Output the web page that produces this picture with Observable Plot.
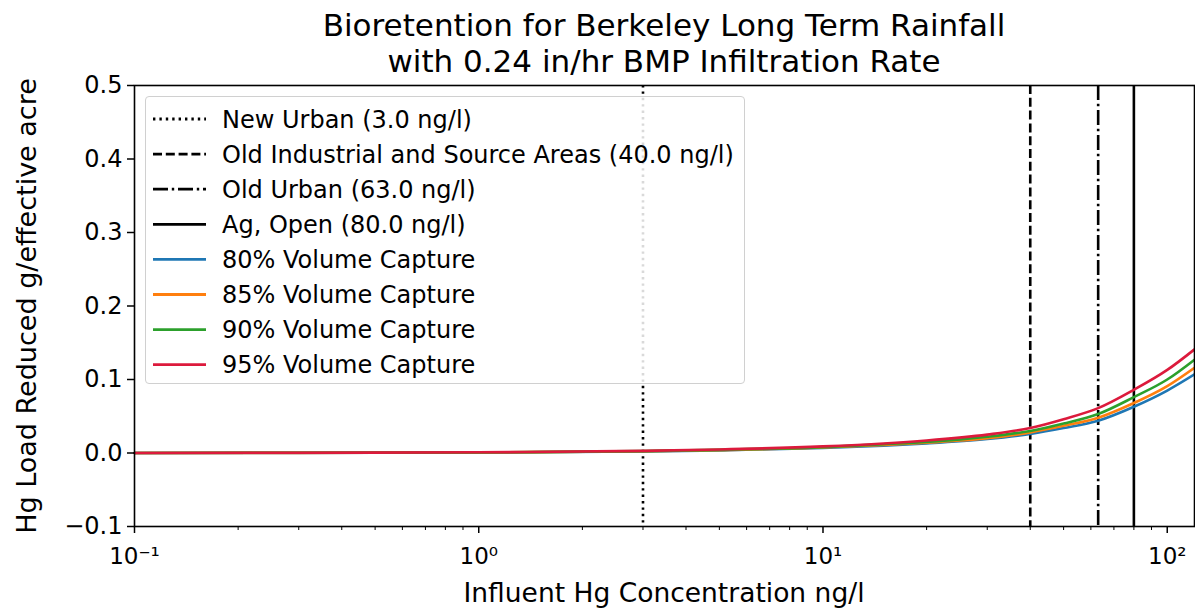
<!DOCTYPE html>
<html>
<head>
<meta charset="utf-8">
<script src="https://cdn.jsdelivr.net/npm/d3@7"></script>
<script src="https://cdn.jsdelivr.net/npm/@observablehq/plot@0.6"></script>
<style>
  html, body { margin: 0; padding: 0; background: #fff; }
  #wrap { position: relative; width: 1195px; height: 611px; font-family: "DejaVu Sans", sans-serif; color: #000; overflow: hidden; }
  #title { position: absolute; left: 0; width: 1328px; top: 7px; text-align: center; font-size: 31px; line-height: 36px; }
  #chart { position: absolute; left: 0; top: 80px; }
  #ylabel { position: absolute; left: 26px; top: 306px; transform: translate(-50%, -50%) rotate(-90deg); white-space: nowrap; font-size: 27px; }
  #xlabel { position: absolute; left: 664px; top: 592px; transform: translate(-50%, -50%); white-space: nowrap; font-size: 26.5px; }
  #legend { position: absolute; left: 145px; top: 96px; width: 600px; height: 288px; border: 1px solid #d0d0d0; border-radius: 4px; background: rgba(255,255,255,0.85); box-sizing: border-box; }
</style>
</head>
<body>
<div id="wrap">
  <div id="title">Bioretention for Berkeley Long Term Rainfall<br>with 0.24 in/hr BMP Infiltration Rate</div>
  <div id="chart"></div>
  <div id="ylabel">Hg Load Reduced g/effective acre</div>
  <div id="xlabel">Influent Hg Concentration ng/l</div>
  <div id="legend"></div>
</div>
<script>
// ---- data ----
const concentrations = [0.1, 0.3, 1, 3, 5, 10, 15, 20, 30, 40, 50, 63, 80, 100, 120];
const capture80 = [0.0001, 0.0002, 0.0007, 0.0022, 0.0036, 0.007, 0.010, 0.013, 0.019, 0.026, 0.034, 0.044, 0.063, 0.085, 0.107];
const capture85 = [0.0001, 0.0002, 0.0008, 0.0024, 0.0039, 0.0075, 0.011, 0.014, 0.020, 0.028, 0.037, 0.048, 0.068, 0.091, 0.116];
const capture90 = [0.0001, 0.0003, 0.0009, 0.0026, 0.0043, 0.008, 0.012, 0.015, 0.022, 0.030, 0.040, 0.053, 0.076, 0.100, 0.127];
const capture95 = [0.0001, 0.0003, 0.0010, 0.0029, 0.0048, 0.009, 0.013, 0.017, 0.025, 0.034, 0.046, 0.061, 0.086, 0.113, 0.141];
const seriesNames = ["80% Volume Capture", "85% Volume Capture", "90% Volume Capture", "95% Volume Capture"];
const seriesColors = ["#1f77b4", "#ff7f0e", "#2ca02c", "#dc1a3c"];
const landUseNames = ["New Urban (3.0 ng/l)", "Old Industrial and Source Areas (40.0 ng/l)", "Old Urban (63.0 ng/l)", "Ag, Open (80.0 ng/l)"];
const landUseConc = [3.0, 40.0, 63.0, 80.0];
const landUseDash = ["2.4,4", "9,3.8", "15,3.8,2.4,3.8", null];
const xTicks = [0.1, 1, 10, 100];
const xTickLabels = ["10⁻¹", "10⁰", "10¹", "10²"];
const yTicks = [-0.1, 0.0, 0.1, 0.2, 0.3, 0.4, 0.5];
const yTickLabels = ["−0.1", "0.0", "0.1", "0.2", "0.3", "0.4", "0.5"];

const seriesValues = [capture80, capture85, capture90, capture95];
const rows = [];
seriesNames.forEach((name, s) => {
  concentrations.forEach((c, i) => rows.push({series: name, conc: c, load: seriesValues[s][i]}));
});
const minorTicks = [];
for (const decade of [0.1, 1, 10]) for (let k = 2; k <= 9; k++) minorTicks.push(decade * k);

const labelFor = (ticks, labels) => d => {
  let best = 0;
  ticks.forEach((t, i) => { if (Math.abs(t - d) < Math.abs(ticks[best] - d)) best = i; });
  return labels[best];
};

const ruleMarks = landUseConc.map((c, i) => Plot.ruleX([c], {
  stroke: "black", strokeWidth: 2.6,
  strokeDasharray: landUseDash[i] || undefined
}));

const chart = Plot.plot({
  width: 1195,
  height: 531,
  marginTop: 5,
  marginBottom: 85,
  marginLeft: 134,
  marginRight: 1,
  style: {fontFamily: "DejaVu Sans, sans-serif", fontSize: "24px", color: "#000", background: "transparent", overflow: "visible"},
  x: {type: "log", domain: [0.1, 120]},
  y: {domain: [-0.1, 0.5]},
  color: {domain: seriesNames, range: seriesColors},
  marks: [
    ...ruleMarks,
    Plot.line(rows, {x: "conc", y: "load", stroke: "series", strokeWidth: 2.6, curve: "monotone-x"}),
    Plot.axisX({ticks: minorTicks, tickSize: 4, tickFormat: () => "", label: null, strokeWidth: 1}),
    Plot.axisX({ticks: xTicks, tickSize: 7, tickPadding: 14, fontSize: 23, tickFormat: labelFor(xTicks, xTickLabels), label: null, strokeWidth: 1.5}),
    Plot.axisY({ticks: yTicks, tickSize: 7, tickPadding: 5, fontSize: 24, tickFormat: labelFor(yTicks, yTickLabels), label: null, strokeWidth: 1.5}),
    Plot.frame({stroke: "black", strokeWidth: 1.6})
  ]
});
document.getElementById("chart").appendChild(chart);

// ---- legend ----
const legendItems = [
  ...landUseNames.map((n, i) => ({label: n, color: "black", dash: landUseDash[i]})),
  ...seriesNames.map((n, i) => ({label: n, color: seriesColors[i], dash: null}))
];
const lg = d3.select("#legend").append("svg").attr("width", 598).attr("height", 286)
  .style("position", "absolute").style("left", "0px").style("top", "0px");
legendItems.forEach((it, i) => {
  const cy = 22 + i * 35.1;
  const ln = lg.append("line").attr("x1", 7).attr("x2", 60).attr("y1", cy).attr("y2", cy)
    .attr("stroke", it.color).attr("stroke-width", 2.8);
  if (it.dash) ln.attr("stroke-dasharray", it.dash);
  lg.append("text").attr("x", 76).attr("y", cy).attr("dy", "0.36em")
    .attr("font-family", "DejaVu Sans, sans-serif").attr("font-size", 24).attr("fill", "#000")
    .text(it.label);
});
</script>
</body>
</html>
